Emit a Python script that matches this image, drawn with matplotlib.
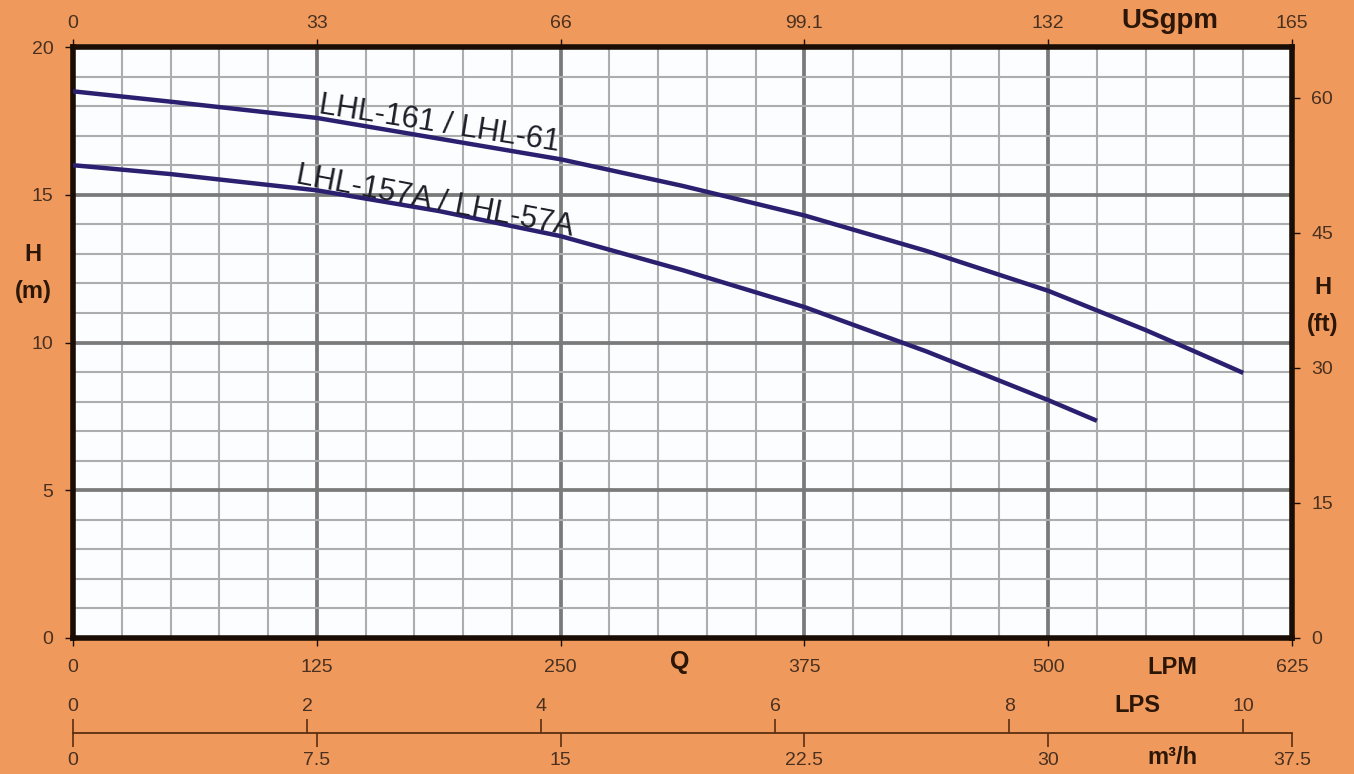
import matplotlib
matplotlib.use('Agg')
import matplotlib.pyplot as plt
from matplotlib.ticker import MultipleLocator

# ---- data ----
lpm_ticks = [0, 125, 250, 375, 500, 625]
lpm_labels = ['0', '125', '250', '375', '500', '625']
usgpm_labels = ['0', '33', '66', '99.1', '132', '165']
h_m_ticks = [0, 5, 10, 15, 20]
h_ft_ticks = [0, 15, 30, 45, 60]
lps_ticks = [0, 2, 4, 6, 8, 10]
lps_labels = ['0', '2', '4', '6', '8', '10']
m3h_ticks = [0, 7.5, 15, 22.5, 30, 37.5]
m3h_labels = ['0', '7.5', '15', '22.5', '30', '37.5']

q_161 = [0, 50, 125, 187.5, 250, 312.5, 375, 437.5, 500, 550, 575, 600]
h_161 = [18.5, 18.15, 17.6, 16.9, 16.2, 15.3, 14.3, 13.1, 11.75, 10.42, 9.7, 8.97]
q_157 = [0, 50, 125, 187.5, 250, 312.5, 375, 437.5, 500, 525]
h_157 = [16.0, 15.7, 15.15, 14.45, 13.6, 12.45, 11.2, 9.7, 8.05, 7.35]

label_161 = 'LHL-161 / LHL-61'
label_157 = 'LHL-157A / LHL-57A'

# ---- style ----
BG = '#EF9A5C'
TICKTXT = '#4a3020'
BOLDTXT = '#2c1608'
SPINE = '#1a0d05'
CURVE = '#2b2070'
FT_PER_M = 3.28084
NARROW = ['Liberation Sans Narrow', 'Liberation Sans', 'DejaVu Sans']
BOLDF = ['Liberation Sans', 'DejaVu Sans']

plt.rcParams['font.family'] = NARROW

fig = plt.figure(figsize=(13.54, 7.74), dpi=100, facecolor=BG)
W, H = 1354, 774
L, R, B, T = 73 / W, 1292 / W, 1 - 638 / H, 1 - 47 / H
ax = fig.add_axes([L, B, R - L, T - B])
ax.set_facecolor('#FBFDFE')
ax.set_xlim(0, 625)
ax.set_ylim(0, 20)
ax.set_xticks(lpm_ticks, lpm_labels)
ax.set_yticks(h_m_ticks)
ax.xaxis.set_minor_locator(MultipleLocator(25))
ax.yaxis.set_minor_locator(MultipleLocator(1))
ax.grid(which='minor', color='#adadad', lw=1.5)
ax.grid(which='major', color='#7a7a7a', lw=2.7)
ax.set_axisbelow(True)
ax.tick_params(which='minor', length=0)
ax.tick_params(axis='x', which='major', length=6, width=1, color=SPINE,
               labelcolor=TICKTXT, labelsize=14, pad=9)
ax.tick_params(axis='y', which='major', length=6, width=1, color=SPINE,
               labelcolor=TICKTXT, labelsize=14, pad=8)
for s in ax.spines.values():
    s.set_linewidth(4)
    s.set_color(SPINE)

ax.plot(q_161, h_161, color=CURVE, lw=3.2, solid_capstyle='butt',
        solid_joinstyle='round', zorder=3)
ax.plot(q_157, h_157, color=CURVE, lw=3.2, solid_capstyle='butt',
        solid_joinstyle='round', zorder=3)

ax.text(125.6, 17.77, label_161, rotation=-9.0, rotation_mode='anchor',
        ha='left', va='baseline', fontsize=22, color='#1e1e28',
        family=BOLDF, zorder=4)
ax.text(113.8, 15.40, label_157, rotation=-10.8, rotation_mode='anchor',
        ha='left', va='baseline', fontsize=22, color='#1e1e28',
        family=BOLDF, zorder=4)

# top axis: USgpm
top = ax.secondary_xaxis('top')
top.set_xticks(lpm_ticks, usgpm_labels)
top.tick_params(length=6, width=1, color=SPINE, labelcolor=TICKTXT,
                labelsize=14, pad=5)
for s in top.spines.values():
    s.set_visible(False)

# right axis: ft
right = ax.secondary_yaxis('right', functions=(lambda m: m * FT_PER_M,
                                                 lambda f: f / FT_PER_M))
right.set_yticks(h_ft_ticks)
right.tick_params(length=6, width=1, color=SPINE, labelcolor=TICKTXT,
                  labelsize=14, pad=8)
for s in right.spines.values():
    s.set_visible(False)

# lower scale: m3/h (below) and LPS (above)
loc = -(733 - 638) / (638 - 47)
m3h = ax.secondary_xaxis(loc, functions=(lambda q: q * 0.06,
                                          lambda v: v / 0.06))
m3h.set_xticks(m3h_ticks, m3h_labels)
m3h.tick_params(length=10, width=1.2, color='#5a2e10', labelcolor=TICKTXT,
                labelsize=14, pad=4)
m3h.spines['bottom'].set_color('#5a2e10')
m3h.spines['bottom'].set_linewidth(1.3)

lps = ax.secondary_xaxis(loc, functions=(lambda q: q / 60.0,
                                          lambda v: v * 60.0))
lps.set_alignment('top')
lps.set_xticks(lps_ticks, lps_labels)
lps.tick_params(length=10, width=1.2, color='#5a2e10', labelcolor=TICKTXT,
                labelsize=14, pad=3)
for s in lps.spines.values():
    s.set_visible(False)

# bold axis titles
def ftxt(x, y, s, size=17):
    fig.text(x / W, 1 - y / H, s, ha='center', va='center', fontsize=size,
             fontweight='bold', color=BOLDTXT, family=BOLDF)

ftxt(1170, 21, 'USgpm', 20)
ftxt(680, 662, 'Q', 18)
ftxt(1172, 668, 'LPM', 17)
ftxt(1137, 705, 'LPS', 17)
ftxt(1172, 757, 'm³/h', 17)
ftxt(33, 255, 'H', 17)
ftxt(33, 292, '(m)', 17)
ftxt(1323, 287, 'H', 17)
ftxt(1323, 325, '(ft)', 17)

fig.savefig('out.png', dpi=100, facecolor=BG)
